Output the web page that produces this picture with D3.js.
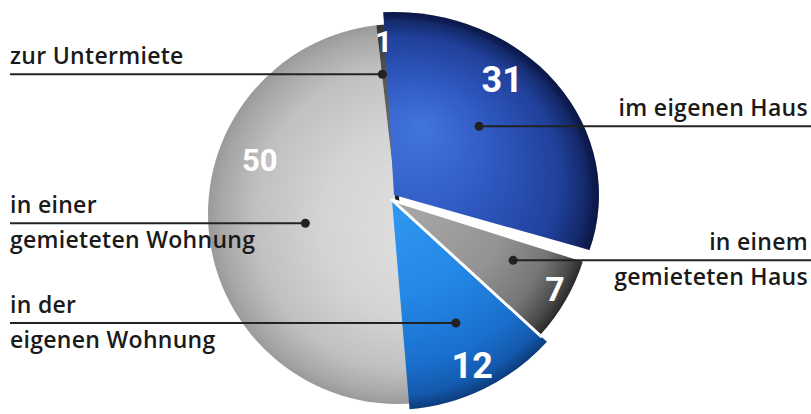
<!DOCTYPE html>
<html><head><meta charset="utf-8">
<script src="https://cdn.jsdelivr.net/npm/d3@7"></script>
<style>body{margin:0;background:#fff;}svg{display:block;}</style>
</head><body>
<script>
// ---- data ----
const categories = ["im eigenen Haus","in einem gemieteten Haus","in der eigenen Wohnung","in einer gemieteten Wohnung","zur Untermiete"];
const values = [31, 7, 12, 50, 1];
const valueLabels = ["31","7","12","50","1"];
const labelLines = [["im eigenen Haus"],["in einem","gemieteten Haus"],["in der","eigenen Wohnung"],["in einer","gemieteten Wohnung"],["zur Untermiete"]];

// ---- style ----
const W = 811, H = 414;
const apexX = [394, 392, 392, 398, 398];
const apexY = [195, 200, 200, 214, 214];
const radii = [183, 202, 210, 190, 190];
const scaleX = [1.12, 1, 1, 1, 1];
const labelT = [0.39, 0.45, 0.51, 0.65, 0.5];
const labelRF = [0.82, 0.92, 0.88, 0.78, 0.91];
const labelSize = [36, 34, 36, 31, 30];
const dotT = [0.46, 0.36, 0.47, 0.50, 0.05];
const dotRF = [0.56, 0.67, 0.66, 0.49, 0.74];
const side = ["right","right","left","left","left"];
const drawOrder = [3, 4, 2, 1, 0];
const gradStops = [
  [[0,"#4275dd"],[0.45,"#2d56bd"],[0.78,"#20409a"],[0.92,"#152a6c"],[1,"#0a1642"]],
  [[0,"#ababab"],[0.55,"#939393"],[0.8,"#767676"],[0.93,"#4a4a4a"],[1,"#262626"]],
  [[0,"#36a0f5"],[0.55,"#2488e6"],[0.82,"#1a6fce"],[0.94,"#145aae"],[1,"#0c3c7c"]],
  [[0,"#e2e2e2"],[0.5,"#d4d4d4"],[0.8,"#c0c0c0"],[0.94,"#a8a8a8"],[1,"#9a9a9a"]],
  [[0,"#7a7a7a"],[0.7,"#5a5a5a"],[1,"#333"]]
];
const gradFocus = [[25,-70],[20,-20],[-20,-40],[40,20],[0,0]];

const svg = d3.select("body").append("svg").attr("width", W).attr("height", H);
const defs = svg.append("defs");

const rot = -3 * Math.PI / 180;
const pie = d3.pie().sort(null).value(d => d).startAngle(rot).endAngle(rot + 2 * Math.PI);
const arcs = pie(values);

function pt(i, a, r) {
  return [apexX[i] + scaleX[i] * r * Math.sin(a), apexY[i] - r * Math.cos(a)];
}

arcs.forEach((d, i) => {
  const g = defs.append("radialGradient").attr("id", "g" + i)
    .attr("gradientUnits", "userSpaceOnUse")
    .attr("cx", 0).attr("cy", 0).attr("r", radii[i])
    .attr("fx", gradFocus[i][0]).attr("fy", gradFocus[i][1]);
  gradStops[i].forEach(s => g.append("stop").attr("offset", s[0]).attr("stop-color", s[1]));
});

const sliceLayer = svg.append("g");
drawOrder.forEach(i => {
  const d = arcs[i];
  const g = sliceLayer.append("g")
    .attr("transform", `translate(${apexX[i]},${apexY[i]}) scale(${scaleX[i]},1)`);
  g.append("path")
    .attr("d", d3.arc().innerRadius(0).outerRadius(radii[i])(d))
    .attr("fill", `url(#g${i})`)
    .attr("stroke", i === 1 ? "#fff" : "none")
    .attr("stroke-width", i === 1 ? 3 : 0)
    .attr("stroke-linejoin", "round");
  if (i === 3) {
    const s = d.startAngle;
    g.append("line").attr("x1", 0).attr("y1", 0)
      .attr("x2", radii[i] * Math.sin(s)).attr("y2", -radii[i] * Math.cos(s))
      .attr("stroke", "#1e1e1e").attr("stroke-width", 5);
  }
  if (i === 4) {
    const e = d.endAngle;
    g.append("line").attr("x1", 0).attr("y1", 0)
      .attr("x2", radii[i] * Math.sin(e)).attr("y2", -radii[i] * Math.cos(e))
      .attr("stroke", "#1a1a1a").attr("stroke-width", 4);
  }
  if (i === 0) {
    g.append("path")
      .attr("d", d3.arc().innerRadius(radii[i] - 6).outerRadius(radii[i])(d))
      .attr("fill", "#0b1a4e").attr("opacity", 0.35);
  }
});

// leader lines + dots
const leaderLayer = svg.append("g");
const textLayer = svg.append("g");
arcs.forEach((d, i) => {
  const a = d.startAngle + dotT[i] * (d.endAngle - d.startAngle);
  const [dx, dy] = pt(i, a, dotRF[i] * radii[i]);
  const xEnd = side[i] === "left" ? 10 : W;
  leaderLayer.append("line").attr("x1", xEnd).attr("x2", dx).attr("y1", dy).attr("y2", dy)
    .attr("stroke", "#222").attr("stroke-width", 2);
  leaderLayer.append("circle").attr("cx", dx).attr("cy", dy).attr("r", 4.5).attr("fill", "#222");
  const tx = side[i] === "left" ? 10 : W - 3;
  const anchor = side[i] === "left" ? "start" : "end";
  labelLines[i].forEach((ln, k) => {
    textLayer.append("text")
      .attr("x", tx).attr("y", k === 0 ? dy - 10 : dy + 25)
      .attr("text-anchor", anchor)
      .attr("font-family", "'Open Sans', sans-serif")
      .attr("font-weight", 600).attr("font-size", 23)
      .attr("letter-spacing", 0.3)
      .attr("fill", "#1a1a1a")
      .text(ln);
  });
});

// value labels
arcs.forEach((d, i) => {
  const a = d.startAngle + labelT[i] * (d.endAngle - d.startAngle);
  const [x, y] = pt(i, a, labelRF[i] * radii[i]);
  svg.append("text").attr("x", x).attr("y", y)
    .attr("text-anchor", "middle").attr("dominant-baseline", "central")
    .attr("font-family", "Roboto, sans-serif").attr("font-weight", 700)
    .attr("font-size", labelSize[i]).attr("fill", "#fff")
    .text(valueLabels[i]);
});
</script>
</body></html>
